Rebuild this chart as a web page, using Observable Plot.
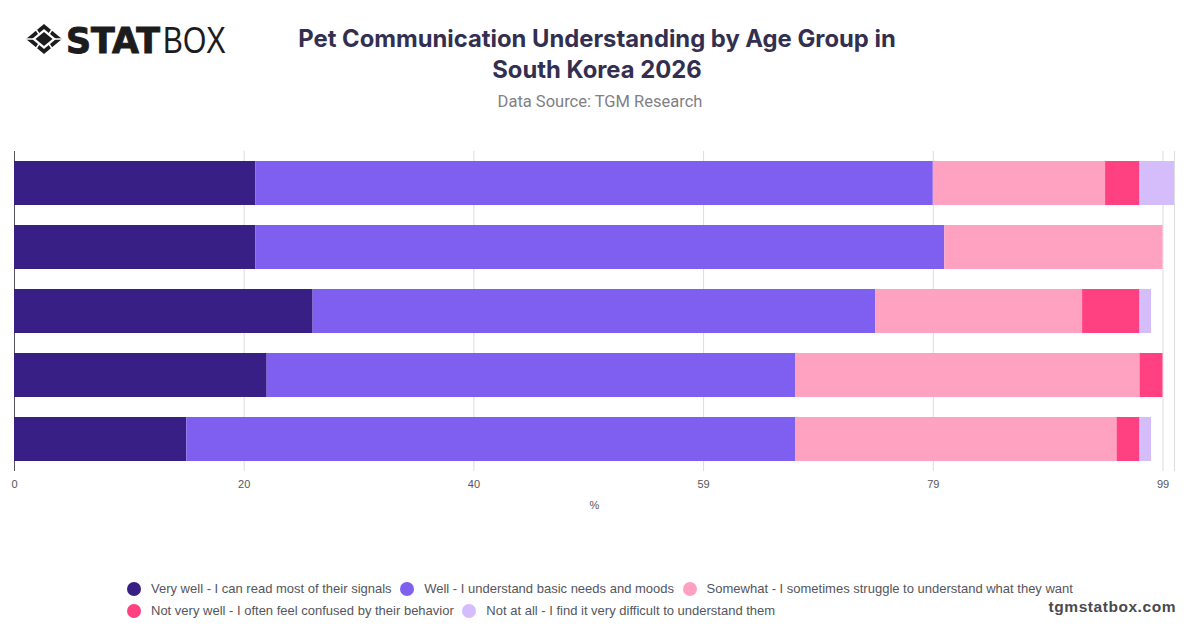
<!DOCTYPE html>
<html><head><meta charset="utf-8">
<script src="https://cdn.jsdelivr.net/npm/d3@7"></script>
<script src="https://cdn.jsdelivr.net/npm/@observablehq/plot@0.6"></script>
<style>
html,body{margin:0;padding:0;background:#fff;width:1200px;height:628px;overflow:hidden;position:relative}
#title{position:absolute;left:197px;width:800px;top:23px;text-align:center;font:700 23.8px/31px Inter,sans-serif;color:#332f50;white-space:nowrap}
#sub{position:absolute;left:297px;width:606px;top:92px;text-align:center;font:400 16.5px/20px Roboto,sans-serif;color:#7f7f86}
#logo{position:absolute;left:26px;top:9px}
#logo svg{display:block;overflow:visible}
#chart{position:absolute;left:0;top:140px}
#legend{position:absolute;left:127px;top:578px;width:980px;display:flex;flex-wrap:wrap;font:13px/22px "Liberation Sans",sans-serif;color:#55555c}
.it{display:flex;align-items:center;margin-right:8.6px;height:22px}
.dot{width:14px;height:14px;border-radius:50%;margin-right:10px;flex:none}
#mark{position:absolute;right:24px;top:597px;font:700 15.5px/20px "Liberation Sans",sans-serif;letter-spacing:.55px;color:#4a4a4f}
</style></head><body>
<div id="logo"><svg width="230" height="60" viewBox="0 -15 230 60">
<polygon points="18,0 36,15 18,30 0,15" fill="#1c1c1e"/>
<polygon points="18,5 30,15 18,25 6,15" fill="#fff"/>
<polygon points="18,8 26.5,15 18,22 9.5,15" fill="#1c1c1e"/>
<path d="M0,15 H8 M36,15 H28 M9,4 L13,10 M27,4 L23,10 M9,26 L13,20 M27,26 L23,20" stroke="#fff" stroke-width="1.5"/>
<text x="40" y="29" font-family="'DejaVu Sans'" font-weight="700" font-size="35" textLength="94" lengthAdjust="spacingAndGlyphs" fill="#1c1c1e" stroke="#1c1c1e" stroke-width="1">STAT</text>
<text x="137" y="29" font-family="'Liberation Sans'" font-size="36" textLength="63" lengthAdjust="spacingAndGlyphs" fill="#1c1c1e">BOX</text>
</svg></div>
<div id="title">Pet Communication Understanding by Age Group in<br>South Korea 2026</div>
<div id="sub">Data Source: TGM Research</div>
<div id="chart"></div>
<div id="legend"></div>
<div id="mark">tgmstatbox.com</div>
<script>
const groups = ["Group 1","Group 2","Group 3","Group 4","Group 5"];
const answers = [
 "Very well - I can read most of their signals",
 "Well - I understand basic needs and moods",
 "Somewhat - I sometimes struggle to understand what they want",
 "Not very well - I often feel confused by their behavior",
 "Not at all - I find it very difficult to understand them"];
const colors = ["#371f85","#7e5ff0","#ffa1c0","#ff4081","#d5bdfb"];
const veryWell = [21,21,26,22,15];
const well = [59,60,49,46,53];
const somewhat = [15,19,18,30,28];
const notVeryWell = [3,0,5,2,2];
const notAtAll = [3,0,1,0,1];
const tickValues = [0,20,40,60,80,100];
const tickLabels = ["0","20","40","59","79","99"];
const xMax = 101;
const series = [veryWell,well,somewhat,notVeryWell,notAtAll];
const rows = [];
series.forEach((vals,s)=>vals.forEach((v,g)=>rows.push({group:groups[g],answer:answers[s],value:v})));

const plot = Plot.plot({
  width:1200,height:380,marginLeft:14,marginRight:26,marginTop:11,marginBottom:49,
  style:{background:"transparent",fontFamily:"'Liberation Sans',sans-serif",fontSize:"11px",color:"#55555c"},
  x:{domain:[0,xMax]},
  y:{domain:groups,paddingInner:20/64,paddingOuter:10/64,axis:null},
  color:{domain:answers,range:colors},
  marks:[
    Plot.ruleX([...tickValues.slice(1),xMax],{stroke:"#dcdcdf",strokeWidth:1,strokeOpacity:1}),
    Plot.ruleX([0],{stroke:"#55555c",strokeWidth:1}),
    Plot.barX(rows,{x:"value",y:"group",fill:"answer",order:answers}),
    Plot.axisX({ticks:tickValues,tickFormat:(d)=>tickLabels[tickValues.indexOf(d)],tickSize:0,tickPadding:9,label:"%",labelArrow:"none",labelAnchor:"center",labelOffset:37,fontSize:11})
  ]
});
document.getElementById("chart").appendChild(plot);

const lg=document.getElementById("legend");
answers.forEach((a,i)=>{
  const it=document.createElement("div");it.className="it";
  const d=document.createElement("span");d.className="dot";d.style.background=colors[i];
  const t=document.createElement("span");t.textContent=a;
  it.append(d,t);lg.append(it);
});
</script>
</body></html>
